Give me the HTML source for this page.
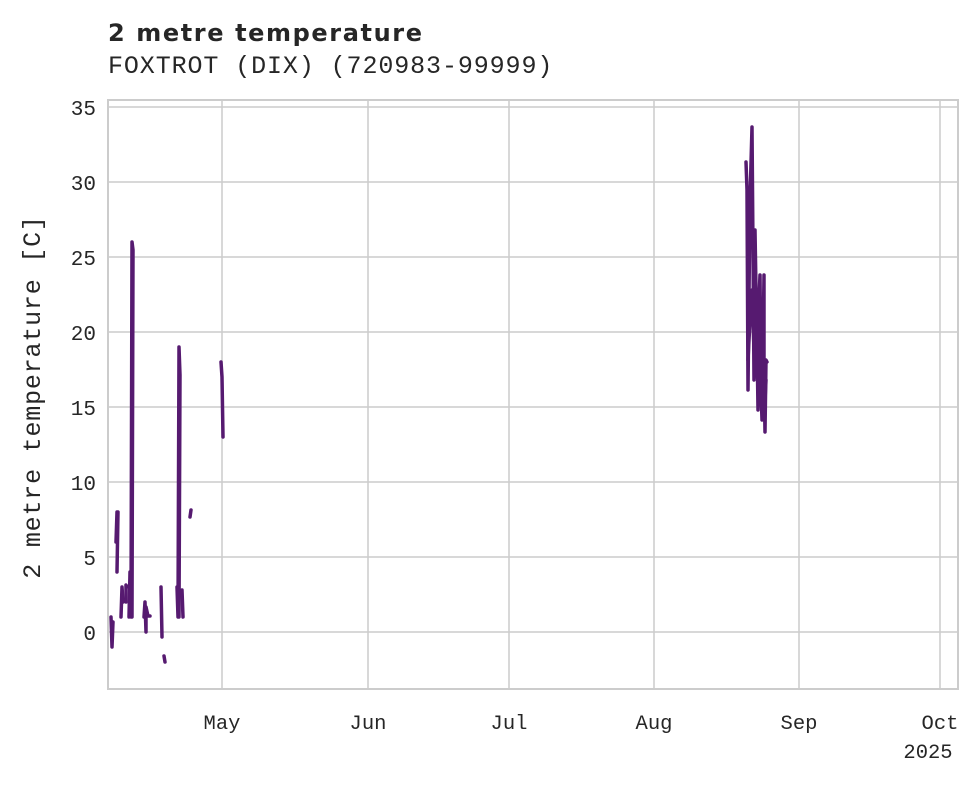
<!DOCTYPE html><html><head><style>body{margin:0;background:#fff}svg text{fill:#262626}</style></head><body>
<svg width="979" height="785" xmlns="http://www.w3.org/2000/svg">
<text x="108" y="41" font-family="DejaVu Sans, sans-serif" font-weight="bold" font-size="24" letter-spacing="1.6">2 metre temperature</text>
<text x="108" y="73" font-family="Liberation Mono, monospace" font-size="25" letter-spacing="0.9">FOXTROT (DIX) (720983-99999)</text>
<g stroke="#cccccc" stroke-width="1.5">
<line x1="108" x2="958" y1="107" y2="107"/><line x1="108" x2="958" y1="182" y2="182"/><line x1="108" x2="958" y1="257" y2="257"/><line x1="108" x2="958" y1="332" y2="332"/><line x1="108" x2="958" y1="407" y2="407"/><line x1="108" x2="958" y1="482" y2="482"/><line x1="108" x2="958" y1="557" y2="557"/><line x1="108" x2="958" y1="632" y2="632"/>
<line x1="222" x2="222" y1="100" y2="689"/><line x1="368" x2="368" y1="100" y2="689"/><line x1="509" x2="509" y1="100" y2="689"/><line x1="654" x2="654" y1="100" y2="689"/><line x1="799" x2="799" y1="100" y2="689"/><line x1="940" x2="940" y1="100" y2="689"/>
</g>
<rect x="108" y="100" width="850" height="589" fill="none" stroke="#cccccc" stroke-width="2"/>
<g font-family="Liberation Mono, monospace" font-size="21" text-anchor="end">
<text x="96" y="115">35</text><text x="96" y="190">30</text><text x="96" y="265">25</text><text x="96" y="340">20</text><text x="96" y="415">15</text><text x="96" y="490">10</text><text x="96" y="565">5</text><text x="96" y="640">0</text>
</g>
<g font-family="Liberation Mono, monospace" font-size="20.5" text-anchor="middle">
<text x="222" y="729">May</text><text x="368" y="729">Jun</text><text x="509" y="729">Jul</text><text x="654" y="729">Aug</text><text x="799" y="729">Sep</text><text x="940" y="729">Oct</text><text x="928" y="758">2025</text>
</g>
<text transform="translate(40,397) rotate(-90)" font-family="Liberation Mono, monospace" font-size="25" letter-spacing="0.8" text-anchor="middle">2 metre temperature [C]</text>
<g stroke="#561a70" stroke-width="3.5" fill="none" stroke-linecap="round" stroke-linejoin="round">
<polyline points="111,617 112,647 113,622"/>
<polyline points="116,542 117,512 118,512 117,572"/>
<polyline points="121,617 122,587 123,602"/>
<polyline points="126,602 126,585 127,587"/>
<polyline points="129,617 130,572"/>
<polyline points="131,617 132,242 133,250 132,617"/>
<polyline points="144,617 145,602 146,632 146,607 148,616 150,616"/>
<polyline points="161,587 162,637"/>
<polyline points="164,656 165,662"/>
<polyline points="177,587 178,617 179,347 180,375 179,617"/>
<polyline points="182,590 183,617"/>
<polyline points="190,517 191,510"/>
<polyline points="221,362 222,377 223,437"/>
<polyline points="746,162 747,190 748,390 750,200 752,127 753,250 754,380 755,230 756,290 757,340 758,410 759,300 760,275 761,390 762,420 763,350 764,275 764,370 765,432 766,360 767,362"/>
<polyline points="748,360 750,320 752,290 754,350 756,300 757,360 758,290 760,330 762,300 763,390 765,400 766,380"/>
</g>
</svg>
</body></html>
